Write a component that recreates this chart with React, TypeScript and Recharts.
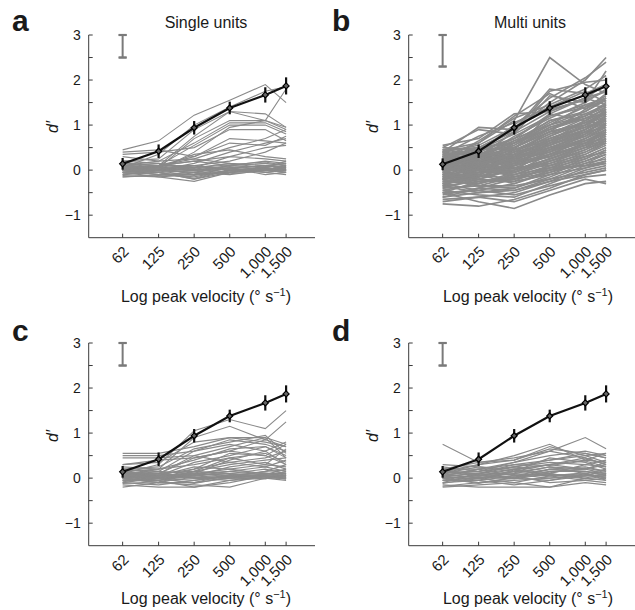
import React from "react";
import { ComposedChart, Line, XAxis, YAxis, ErrorBar } from "recharts";

const velocities = [62, 125, 250, 500, 1000, 1500];
const yTicks = [-1, -0.5, 0, 0.5, 1, 1.5, 2, 2.5, 3];

const meanSingle = [0.14, 0.42, 0.94, 1.38, 1.67, 1.87];
const errSingle = [0.13, 0.15, 0.15, 0.14, 0.17, 0.19];
const meanMulti = [0.13, 0.42, 0.94, 1.38, 1.67, 1.86];
const errMulti = [0.13, 0.15, 0.15, 0.15, 0.17, 0.19];

// panel a: single units
const singleUnits = [
  [0.45, 0.65, 1.22, 1.55, 1.9, 1.5],
  [0.05, 0.35, 1.0, 1.4, 1.75, 1.85],
  [0.0, 0.1, 0.75, 1.3, 1.1, 1.8],
  [0.2, 0.25, 0.9, 1.3, 1.25, 0.95],
  [0.0, 0.05, 0.7, 1.1, 1.1, 0.9],
  [0.1, 0.2, 0.6, 1.05, 1.05, 0.85],
  [0.05, 0.1, 0.55, 1.0, 1.0, 0.8],
  [0.0, 0.0, 0.4, 0.95, 1.1, 0.95],
  [0.35, 0.4, 0.5, 0.9, 0.9, 0.65],
  [0.4, 0.45, 0.3, 0.6, 0.55, 0.75],
  [0.3, 0.2, 0.25, 0.5, 0.7, 0.9],
  [0.0, 0.1, 0.3, 0.7, 0.65, 0.6],
  [-0.05, 0.0, 0.15, 0.4, 0.6, 0.7],
  [0.15, 0.1, 0.2, 0.3, 0.5, 0.55],
  [0.1, 0.05, 0.35, 0.45, 0.3, 0.25],
  [0.0, 0.0, 0.1, 0.2, 0.4, 0.6],
  [0.2, 0.15, 0.05, 0.3, 0.25, 0.2],
  [0.05, 0.1, 0.25, 0.15, 0.1, 0.15],
  [0.1, 0.05, 0.0, 0.05, 0.1, 0.05],
  [-0.1, -0.05, -0.2, -0.05, 0.0, -0.05],
  [0.0, -0.1, -0.15, 0.0, 0.05, 0.0],
  [0.05, 0.0, 0.05, -0.05, 0.0, 0.1],
  [-0.05, -0.15, -0.1, 0.05, -0.05, 0.0],
  [0.15, 0.1, 0.1, 0.0, 0.05, 0.2],
  [-0.15, -0.1, -0.05, 0.1, 0.15, 0.1],
  [0.0, 0.05, -0.1, -0.05, 0.05, 0.0],
  [-0.1, 0.0, 0.1, 0.0, -0.05, -0.1],
  [0.05, -0.05, -0.2, 0.0, 0.0, 0.05],
  [0.1, 0.15, 0.0, 0.1, 0.2, 0.15],
  [-0.05, 0.0, -0.05, -0.1, 0.0, -0.05],
  [0.0, 0.0, 0.05, 0.15, 0.05, 0.0],
  [-0.12, -0.15, -0.25, -0.05, 0.0, 0.0],
  [0.2, 0.0, -0.05, 0.05, 0.1, 0.05],
  [-0.08, -0.05, 0.0, 0.05, -0.1, -0.05],
  [0.05, 0.05, 0.1, 0.0, 0.0, 0.12],
  [-0.02, -0.1, -0.1, -0.05, 0.05, 0.02],
  [0.12, 0.05, -0.02, 0.08, 0.0, -0.05],
  [0.0, -0.05, -0.18, 0.02, 0.1, 0.08],
  [-0.15, -0.12, -0.08, -0.02, 0.02, 0.05],
  [0.08, 0.1, 0.2, 0.1, 0.05, 0.0],
  [0.02, 0.08, 0.05, 0.12, 0.18, 0.1],
  [-0.05, -0.02, 0.02, -0.08, -0.02, 0.0],
  [0.1, -0.02, -0.12, -0.02, 0.08, 0.15],
];

// panel b: multi units
const multiUnits = [
  [0.3, 0.6, 1.1, 2.5, 1.9, 1.7],
  [0.2, 0.5, 0.9, 1.5, 2.0, 2.5],
  [0.1, 0.4, 1.0, 1.6, 2.05, 2.4],
  [0.4, 0.95, 0.9, 1.8, 1.7, 1.9],
  [0.55, 0.7, 1.25, 1.3, 1.6, 1.75],
  [0.5, 0.9, 0.8, 1.65, 1.5, 2.2],
  [0.45, 0.6, 1.2, 1.7, 1.35, 1.6],
  [0.35, 0.75, 1.05, 1.4, 1.75, 1.5],
  [0.25, 0.3, 0.85, 1.3, 1.6, 1.45],
  [0.5, 0.45, 0.7, 1.2, 1.4, 1.65],
  [0.2, 0.35, 0.6, 1.1, 1.3, 1.55],
  [0.0, 0.2, 0.55, 1.0, 1.45, 1.4],
  [0.3, 0.5, 0.45, 1.25, 1.1, 1.3],
  [-0.1, 0.1, 0.5, 0.95, 1.2, 1.5],
  [0.15, 0.25, 0.65, 0.9, 1.25, 1.2],
  [0.4, 0.3, 0.5, 0.85, 1.0, 1.35],
  [0.05, 0.15, 0.4, 0.8, 1.15, 1.25],
  [-0.2, 0.0, 0.35, 0.75, 1.05, 1.3],
  [0.25, 0.2, 0.3, 0.7, 0.95, 1.1],
  [0.1, 0.05, 0.45, 0.65, 1.1, 1.0],
  [-0.3, -0.1, 0.2, 0.6, 0.9, 1.2],
  [0.35, 0.4, 0.25, 0.55, 0.85, 0.95],
  [0.0, 0.1, 0.3, 0.5, 0.8, 1.15],
  [-0.15, -0.05, 0.15, 0.45, 0.75, 1.05],
  [0.2, 0.0, 0.1, 0.4, 0.7, 0.9],
  [-0.4, -0.2, 0.05, 0.35, 0.65, 0.85],
  [0.1, 0.2, 0.2, 0.3, 0.6, 0.8],
  [-0.05, -0.15, 0.0, 0.25, 0.55, 0.75],
  [0.3, 0.15, -0.05, 0.2, 0.5, 0.7],
  [-0.25, -0.3, -0.1, 0.15, 0.45, 0.65],
  [0.05, -0.05, 0.05, 0.1, 0.4, 0.6],
  [-0.35, -0.25, -0.2, 0.05, 0.35, 0.55],
  [0.15, 0.05, -0.15, 0.0, 0.3, 0.5],
  [-0.5, -0.45, -0.3, -0.05, 0.25, 0.45],
  [-0.1, -0.2, -0.25, -0.1, 0.2, 0.4],
  [-0.6, -0.5, -0.4, -0.15, 0.15, 0.35],
  [0.0, -0.35, -0.35, -0.2, 0.1, 0.3],
  [-0.7, -0.6, -0.5, -0.25, 0.05, 0.2],
  [-0.45, -0.55, -0.6, -0.3, 0.0, 0.1],
  [-0.75, -0.8, -0.65, -0.4, -0.1, 0.0],
  [-0.5, -0.7, -0.85, -0.55, -0.3, -0.25],
  [-0.65, -0.6, -0.7, -0.45, -0.2, -0.3],
  [-0.3, -0.45, -0.55, -0.35, -0.15, -0.1],
  [-0.55, -0.4, -0.45, -0.2, -0.05, 0.05],
  [-0.2, -0.35, -0.4, -0.1, 0.05, 0.15],
  [0.45, 0.5, 0.6, 0.9, 1.2, 1.45],
  [0.3, 0.4, 0.7, 1.0, 1.3, 1.6],
  [0.1, 0.3, 0.5, 0.85, 1.35, 1.7],
  [0.2, 0.25, 0.75, 1.15, 1.5, 1.8],
  [-0.05, 0.15, 0.6, 1.05, 1.4, 1.55],
  [0.35, 0.2, 0.4, 0.6, 1.0, 1.25],
  [0.25, 0.1, 0.35, 0.55, 0.9, 1.15],
  [0.0, 0.0, 0.25, 0.45, 0.85, 1.1],
  [-0.15, 0.05, 0.2, 0.4, 0.8, 1.0],
  [0.15, -0.1, 0.15, 0.35, 0.7, 0.95],
  [-0.25, -0.15, 0.1, 0.3, 0.6, 0.9],
  [0.05, 0.0, 0.0, 0.25, 0.5, 0.8],
  [-0.35, -0.05, -0.05, 0.2, 0.45, 0.7],
  [0.2, 0.1, 0.05, 0.15, 0.35, 0.6],
  [-0.1, -0.25, -0.15, 0.1, 0.3, 0.5],
  [0.4, 0.2, 0.15, 0.5, 0.6, 0.85],
  [0.1, -0.15, 0.1, 0.6, 0.75, 1.05],
  [-0.2, -0.1, 0.3, 0.7, 0.95, 1.3],
  [0.25, 0.35, 0.55, 0.95, 1.15, 1.35],
  [-0.05, 0.25, 0.45, 0.8, 1.0, 1.2],
  [0.3, 0.1, 0.2, 0.65, 0.85, 1.1],
  [-0.3, -0.2, 0.0, 0.45, 0.7, 1.0],
  [0.0, 0.05, 0.1, 0.3, 0.55, 0.85],
  [-0.15, -0.3, -0.1, 0.2, 0.4, 0.65],
  [0.15, 0.0, -0.1, 0.05, 0.25, 0.45],
  [-0.4, -0.35, -0.15, 0.0, 0.2, 0.35],
  [0.05, -0.1, -0.2, -0.05, 0.15, 0.25],
  [-0.5, -0.25, -0.25, 0.1, 0.3, 0.4],
  [0.2, 0.3, 0.35, 0.6, 0.9, 1.2],
  [0.1, 0.2, 0.4, 0.75, 1.1, 1.4],
  [-0.1, 0.0, 0.3, 0.55, 0.85, 1.05],
  [0.35, 0.45, 0.5, 0.85, 1.05, 1.25],
  [0.0, 0.15, 0.35, 0.65, 0.95, 1.15],
  [-0.2, -0.05, 0.25, 0.5, 0.75, 0.95],
  [0.25, 0.15, 0.3, 0.4, 0.65, 0.8],
  [-0.3, -0.15, 0.15, 0.35, 0.55, 0.75],
  [0.1, 0.05, 0.2, 0.45, 0.6, 0.7],
  [-0.45, -0.3, -0.05, 0.25, 0.5, 0.6],
  [0.3, 0.25, 0.45, 0.7, 1.0, 1.3],
  [0.05, 0.35, 0.65, 1.1, 1.25, 1.45],
  [0.15, 0.45, 0.8, 1.2, 1.45, 1.6],
  [0.4, 0.55, 0.95, 1.35, 1.55, 1.75],
  [-0.1, 0.3, 0.7, 1.25, 1.6, 1.9],
  [0.2, 0.65, 1.15, 1.45, 1.8, 2.1],
  [0.0, 0.5, 0.85, 1.75, 1.95, 2.0],
  [-0.6, -0.4, -0.2, 0.05, 0.1, 0.15],
  [-0.35, -0.5, -0.45, -0.25, -0.1, 0.0],
  [-0.25, -0.1, -0.3, 0.0, 0.1, 0.2],
  [0.1, 0.0, -0.05, 0.35, 0.55, 0.65],
  [-0.05, 0.1, 0.15, 0.5, 0.65, 0.9],
  [0.25, 0.05, 0.25, 0.55, 0.8, 1.0],
  [-0.15, 0.2, 0.4, 0.85, 1.05, 1.25],
  [0.45, 0.35, 0.6, 1.0, 1.2, 1.4],
  [0.05, 0.25, 0.5, 0.9, 1.15, 1.35],
  [-0.2, 0.1, 0.35, 0.65, 0.9, 1.1],
];

// panel c
const panelCUnits = [
  [0.1, 0.3, 1.05, 1.3, 1.1, 1.5],
  [0.05, 0.2, 0.9, 1.15, 0.85, 1.25],
  [0.55, 0.55, 0.7, 0.9, 0.9, 0.75],
  [0.5, 0.5, 0.6, 0.85, 0.75, 0.6],
  [0.45, 0.45, 0.5, 0.7, 0.9, 0.45],
  [0.3, 0.35, 0.8, 0.9, 0.8, 0.7],
  [0.2, 0.25, 0.65, 0.8, 0.95, 0.55],
  [0.1, 0.15, 0.6, 0.75, 0.6, 0.8],
  [0.0, 0.1, 0.45, 0.6, 0.85, 0.7],
  [0.15, 0.05, 0.35, 0.5, 0.7, 0.5],
  [0.25, 0.2, 0.3, 0.45, 0.55, 0.35],
  [0.05, 0.1, 0.5, 0.35, 0.45, 0.6],
  [-0.05, 0.0, 0.2, 0.55, 0.5, 0.3],
  [0.1, 0.0, 0.15, 0.3, 0.4, 0.45],
  [0.0, 0.05, 0.25, 0.2, 0.3, 0.25],
  [0.2, 0.1, 0.05, 0.25, 0.35, 0.2],
  [0.05, -0.05, 0.1, 0.15, 0.25, 0.15],
  [-0.1, 0.0, 0.05, 0.1, 0.2, 0.1],
  [0.1, 0.1, 0.0, 0.05, 0.15, 0.3],
  [0.15, 0.05, 0.1, 0.2, 0.1, 0.05],
  [0.0, -0.1, -0.1, 0.0, 0.05, 0.0],
  [-0.15, -0.2, -0.2, -0.05, 0.05, 0.05],
  [0.05, 0.0, -0.05, 0.05, 0.0, -0.05],
  [-0.2, -0.1, -0.15, -0.2, 0.0, 0.0],
  [0.1, 0.05, 0.0, 0.0, 0.1, 0.1],
  [-0.05, -0.05, -0.2, -0.1, 0.05, 0.02],
  [0.0, 0.1, 0.05, 0.0, -0.02, 0.08],
  [-0.1, -0.15, -0.05, 0.05, 0.02, -0.02],
  [0.12, 0.02, 0.08, 0.1, 0.05, 0.15],
  [-0.05, 0.05, 0.12, 0.02, 0.08, 0.2],
  [0.05, -0.02, -0.1, 0.08, 0.12, 0.05],
  [0.02, 0.05, 0.0, -0.05, 0.0, 0.1],
  [-0.12, -0.08, 0.02, 0.0, 0.05, -0.02],
  [0.08, 0.12, 0.15, 0.1, 0.0, 0.05],
  [0.0, -0.05, 0.05, 0.15, 0.1, 0.12],
  [-0.08, 0.0, -0.12, 0.02, 0.15, 0.18],
  [0.2, 0.15, 0.1, 0.05, 0.08, 0.02],
  [0.05, 0.08, 0.2, 0.35, 0.25, 0.4],
  [0.0, 0.02, 0.1, 0.4, 0.6, 0.3],
  [-0.02, -0.1, 0.15, 0.45, 0.3, 0.65],
  [0.3, 0.4, 0.45, 0.6, 0.5, 0.75],
  [0.15, 0.2, 0.4, 0.65, 0.7, 0.45],
];

// panel d
const panelDUnits = [
  [0.75, 0.35, 0.45, 0.6, 0.9, 0.65],
  [0.1, 0.3, 0.5, 0.75, 0.4, 0.55],
  [0.2, 0.35, 0.4, 0.7, 0.5, 0.35],
  [0.05, 0.2, 0.35, 0.5, 0.6, 0.5],
  [0.15, 0.1, 0.3, 0.4, 0.55, 0.45],
  [0.25, 0.15, 0.25, 0.35, 0.3, 0.4],
  [0.0, 0.05, 0.2, 0.3, 0.45, 0.3],
  [0.1, 0.25, 0.15, 0.45, 0.35, 0.2],
  [-0.05, 0.0, 0.1, 0.25, 0.2, 0.35],
  [0.2, 0.2, 0.05, 0.2, 0.25, 0.15],
  [0.05, -0.05, 0.15, 0.1, 0.3, 0.25],
  [-0.1, 0.1, 0.0, 0.15, 0.15, 0.1],
  [0.15, 0.05, 0.1, 0.05, 0.1, 0.2],
  [0.0, -0.1, -0.05, 0.0, 0.05, 0.05],
  [-0.2, -0.15, -0.1, -0.2, 0.0, -0.05],
  [0.1, 0.0, 0.05, 0.1, 0.0, 0.1],
  [-0.05, -0.05, -0.15, -0.05, 0.1, 0.0],
  [0.05, 0.1, 0.2, 0.05, -0.05, -0.1],
  [-0.15, -0.2, -0.2, -0.2, -0.1, -0.15],
  [0.0, 0.05, 0.0, 0.2, 0.15, 0.05],
  [0.12, 0.15, 0.25, 0.15, 0.2, 0.3],
  [-0.1, -0.05, 0.05, -0.1, -0.05, 0.0],
  [0.08, 0.0, -0.1, 0.05, 0.12, -0.05],
  [0.02, 0.12, 0.08, 0.0, 0.08, 0.12],
  [-0.12, 0.02, -0.02, 0.1, -0.02, 0.05],
  [0.18, 0.08, 0.12, 0.25, 0.1, 0.0],
  [0.0, -0.12, 0.02, 0.08, 0.05, 0.18],
  [0.05, 0.2, 0.3, 0.28, 0.38, 0.25],
  [0.3, 0.25, 0.2, 0.3, 0.4, 0.35],
  [0.1, 0.15, 0.35, 0.6, 0.45, 0.3],
  [-0.05, 0.1, 0.25, 0.4, 0.5, 0.55],
  [0.2, 0.05, 0.15, 0.3, 0.2, 0.1],
  [-0.18, -0.1, 0.0, -0.05, 0.05, 0.08],
  [0.02, -0.02, 0.18, 0.12, 0.22, 0.15],
  [0.15, 0.3, 0.4, 0.65, 0.55, 0.45],
];

const AXIS = "#3a3a3a";
const GRAY = "#8a8a8a";
const TEXT = "#1a1a1a";
const FONT = "'Liberation Sans', Arial, Helvetica, sans-serif";

const fmtVel = (v: number) => v.toLocaleString("en-US");

const XTick = (props: any) => {
  const { x, y, payload } = props;
  return (
    <g>
      <line x1={x} x2={x} y1={y} y2={y - 4} stroke={AXIS} />
      <g transform={`translate(${x + 7} ${y + 15}) rotate(-45)`}>
        <text x={0} y={0} textAnchor="end" fontSize={15} fill={TEXT} fontFamily={FONT}>
          {fmtVel(payload.value)}
        </text>
      </g>
    </g>
  );
};

const YTick = (props: any) => {
  const { x, y, payload } = props;
  const v = payload.value;
  return (
    <g>
      <line x1={x} x2={x + 4} y1={y} y2={y} stroke={AXIS} />
      {Number.isInteger(v) && (
        <text x={x - 8} y={y + 5} textAnchor="end" fontSize={14} fill={TEXT} fontFamily={FONT}>
          {v < 0 ? "\u2212" + Math.abs(v) : String(v)}
        </text>
      )}
    </g>
  );
};

const Diamond = (props: any) => {
  const { cx, cy } = props;
  if (cx == null || cy == null) return null;
  const r = 3;
  return <polygon points={`${cx},${cy - r} ${cx + r},${cy} ${cx},${cy + r} ${cx - r},${cy}`} fill="#666" stroke="#000" strokeWidth={1.2} />;
};

function buildRows(lines: number[][], mean: number[], err: number[]) {
  return velocities.map((v, i) => {
    const row: any = { v, mean: mean[i], err: err[i] };
    lines.forEach((l, j) => {
      row["u" + j] = l[i];
    });
    return row;
  });
}

type PanelProps = {
  left: number;
  top: number;
  width: number;
  rightMargin: number;
  lines: number[][];
  mean: number[];
  err: number[];
  barLow: number;
  lineWidth: number;
};

function Panel({ left, top, width, rightMargin, lines, mean, err, barLow, lineWidth }: PanelProps) {
  const rows = buildRows(lines, mean, err);
  // scale bar: vertical segment from barLow to 3, caps drawn by tiny error bars at each end
  const bar = [
    { v: 62, b: barLow, e: 0.002 },
    { v: 62, b: 3, e: 0.002 },
  ];
  return (
    <div style={{ position: "absolute", left, top }}>
      <ComposedChart width={width} height={300} data={rows} margin={{ top: 35, right: rightMargin, left: 0, bottom: 0 }}>
        <XAxis
          dataKey="v"
          type="number"
          scale="log"
          domain={[32, 2635]}
          allowDataOverflow
          ticks={velocities}
          interval={0}
          tick={<XTick />}
          tickLine={false}
          tickSize={0}
          tickMargin={0}
          height={62.3}
          axisLine={{ stroke: AXIS }}
        />
        <YAxis
          type="number"
          domain={[-1.5, 3]}
          allowDataOverflow
          ticks={yTicks}
          interval={0}
          tick={<YTick />}
          tickLine={false}
          tickSize={0}
          tickMargin={0}
          width={88.7}
          axisLine={{ stroke: AXIS }}
        />
        {lines.map((_, j) => (
          <Line
            key={j}
            dataKey={"u" + j}
            stroke={GRAY}
            strokeWidth={lineWidth}
            dot={false}
            activeDot={false}
            isAnimationActive={false}
          />
        ))}
        <Line data={bar} dataKey="b" stroke="#7a7a7a" strokeWidth={2} dot={false} activeDot={false} isAnimationActive={false}>
          <ErrorBar dataKey="e" width={4} stroke="#7a7a7a" strokeWidth={2} direction="y" />
        </Line>
        <Line
          dataKey="mean"
          stroke="#111"
          strokeWidth={2.2}
          dot={<Diamond />}
          activeDot={false}
          isAnimationActive={false}
        >
          <ErrorBar dataKey="err" width={0} stroke="#111" strokeWidth={2.2} direction="y" />
        </Line>
      </ComposedChart>
    </div>
  );
}

function Labels() {
  const xLabel = (cx: number, by: number) => (
    <text x={cx} y={by} textAnchor="middle" fontSize={16} fill={TEXT}>
      Log peak velocity (° s
      <tspan dy={-6} fontSize={11}>−1</tspan>
      <tspan dy={6}>)</tspan>
    </text>
  );
  const yLabel = (cx: number, cy: number) => (
    <text transform={`translate(${cx} ${cy}) rotate(-90)`} textAnchor="middle" dy={5} fontSize={16} fontStyle="italic" fill={TEXT}>
      d′
    </text>
  );
  return (
    <svg width={635} height={610} style={{ position: "absolute", left: 0, top: 0, pointerEvents: "none" }} fontFamily={FONT}>
      <text x={12} y={31} fontSize={30} fontWeight="bold" fill={TEXT}>a</text>
      <text x={332} y={31} fontSize={30} fontWeight="bold" fill={TEXT}>b</text>
      <text x={12} y={341} fontSize={30} fontWeight="bold" fill={TEXT}>c</text>
      <text x={332} y={341} fontSize={30} fontWeight="bold" fill={TEXT}>d</text>
      <text x={206} y={28} textAnchor="middle" fontSize={16} fill={TEXT}>Single units</text>
      <text x={530} y={28} textAnchor="middle" fontSize={16} fill={TEXT}>Multi units</text>
      {yLabel(53, 127)}
      {yLabel(373, 127)}
      {yLabel(53, 436)}
      {yLabel(373, 436)}
      {xLabel(206, 302)}
      {xLabel(528, 302)}
      {xLabel(206, 604)}
      {xLabel(528, 604)}
    </svg>
  );
}

export default function App() {
  return (
    <div style={{ position: "absolute", left: 0, top: 0, width: 635, height: 610, background: "#fff", overflow: "hidden", fontFamily: FONT }}>
      <Panel left={0} top={0} width={320} rightMargin={5} lines={singleUnits} mean={meanSingle} err={errSingle} barLow={2.5} lineWidth={1.1} />
      <Panel left={320} top={0} width={315} rightMargin={0} lines={multiUnits} mean={meanMulti} err={errMulti} barLow={2.3} lineWidth={1.6} />
      <Panel left={0} top={307.7} width={320} rightMargin={5} lines={panelCUnits} mean={meanSingle} err={errSingle} barLow={2.5} lineWidth={1.1} />
      <Panel left={320} top={307.7} width={315} rightMargin={0} lines={panelDUnits} mean={meanSingle} err={errSingle} barLow={2.5} lineWidth={1.1} />
      <Labels />
    </div>
  );
}
